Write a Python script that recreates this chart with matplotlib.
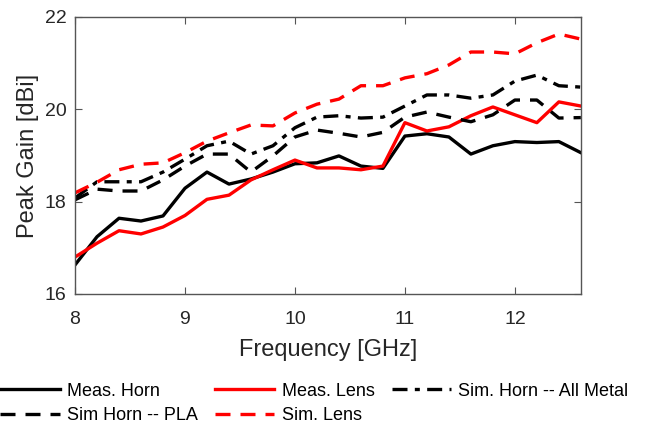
import numpy as np
import matplotlib.pyplot as plt

plt.rcParams['font.family'] = ['Liberation Sans', 'DejaVu Sans']

# frequency points (GHz)
freq = [8.0, 8.2, 8.4, 8.6, 8.8, 9.0, 9.2, 9.4, 9.6, 9.8, 10.0, 10.2,
        10.4, 10.6, 10.8, 11.0, 11.2, 11.4, 11.6, 11.8, 12.0, 12.2, 12.4, 12.6]

meas_horn = [16.63, 17.24, 17.64, 17.58, 17.69, 18.29, 18.64, 18.38, 18.49, 18.64, 18.82, 18.84,
             18.99, 18.77, 18.72, 19.42, 19.47, 19.40, 19.03, 19.21, 19.30, 19.28, 19.30, 19.06]
meas_lens = [16.80, 17.10, 17.37, 17.30, 17.45, 17.70, 18.05, 18.14, 18.47, 18.69, 18.90, 18.73,
             18.73, 18.69, 18.77, 19.71, 19.53, 19.62, 19.86, 20.05, 19.88, 19.71, 20.16, 20.07]
sim_metal = [18.08, 18.43, 18.43, 18.43, 18.64, 18.92, 19.21, 19.31, 19.03, 19.21, 19.60, 19.83,
             19.86, 19.81, 19.83, 20.07, 20.31, 20.31, 20.24, 20.31, 20.61, 20.74, 20.51, 20.48]
sim_pla = [18.04, 18.27, 18.23, 18.23, 18.47, 18.77, 19.03, 19.03, 18.64, 18.99, 19.40, 19.55,
           19.48, 19.40, 19.50, 19.83, 19.94, 19.83, 19.73, 19.88, 20.20, 20.20, 19.81, 19.82]
sim_lens = [18.19, 18.42, 18.69, 18.81, 18.84, 19.06, 19.31, 19.49, 19.66, 19.64, 19.92, 20.11,
            20.22, 20.51, 20.51, 20.68, 20.77, 20.96, 21.24, 21.24, 21.20, 21.44, 21.63, 21.52]

fig = plt.figure(figsize=(6.49, 4.23), dpi=100)
ax = fig.add_axes([0.1156, 0.305, 0.7794, 0.655])

lw = 2.4
h1, = ax.plot(freq, meas_horn, color='black', lw=lw, label='Meas. Horn')
h2, = ax.plot(freq, meas_lens, color='red', lw=lw, label='Meas. Lens')
h3, = ax.plot(freq, sim_metal, color='black', lw=lw, dashes=(4.5, 2.2, 1.5, 2.2), label='Sim. Horn -- All Metal')
h4, = ax.plot(freq, sim_pla, color='black', lw=lw, dashes=(4.5, 3), label='Sim Horn -- PLA')
h5, = ax.plot(freq, sim_lens, color='red', lw=lw, dashes=(4.5, 3), label='Sim. Lens')

ax.set_xlim(8, 12.6)
ax.set_ylim(16, 22)
ax.set_xticks([8, 9, 10, 11, 12])
ax.set_yticks([16, 18, 20, 22])
ax.tick_params(direction='in', top=True, right=True, labelsize=14, length=5,
               color='#555555', width=0.8, labelcolor='#262626')
ax.tick_params(axis='x', pad=12)
ax.tick_params(axis='y', pad=6)
for s in ax.spines.values():
    s.set_color('#555555')
    s.set_linewidth(1.0)

ax.set_xlabel('Frequency [GHz]', fontsize=17, color='#262626', labelpad=8)
ax.set_ylabel('Peak Gain [dBi]', fontsize=17, color='#262626', labelpad=4)

ax.legend(handles=[h1, h4, h2, h5, h3], ncol=3, frameon=False, fontsize=13,
          loc='upper left', bbox_to_anchor=(0.0, 0.095), bbox_transform=fig.transFigure,
          handlelength=3.3, handletextpad=0.4, columnspacing=0.95, labelspacing=0.4,
          borderpad=0, borderaxespad=0)

fig.savefig('out.png', dpi=100)
